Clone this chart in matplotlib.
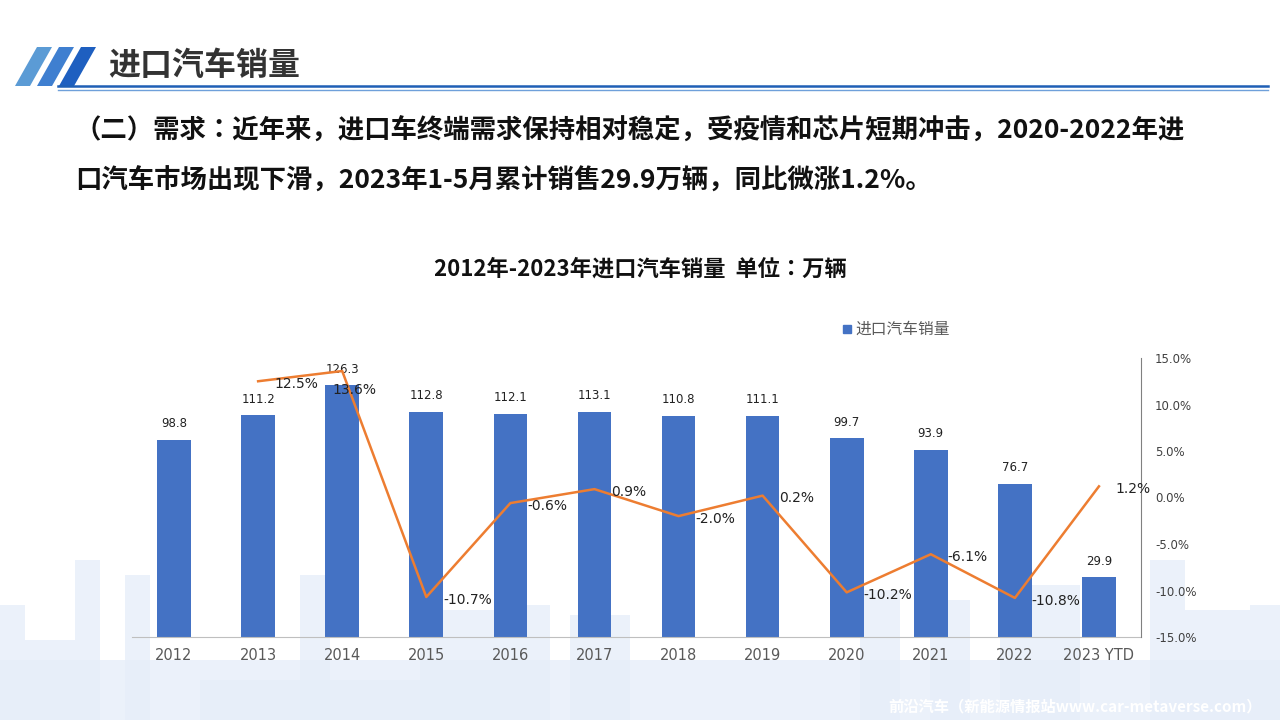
import matplotlib
matplotlib.use("Agg")
import matplotlib.pyplot as plt
from matplotlib import font_manager
from matplotlib.patches import Rectangle, Polygon

names = sorted({f.name for f in font_manager.fontManager.ttflist if 'CJK' in f.name or 'Noto' in f.name})
cjk = [n for n in ['Noto Sans CJK SC', 'Noto Sans CJK JP', 'Noto Sans CJK TC', 'Noto Sans CJK KR'] if n in names]
cjk += [n for n in names if 'CJK' in n and n not in cjk]
plt.rcParams['font.family'] = 'sans-serif'
plt.rcParams['font.sans-serif'] = cjk + ['DejaVu Sans']

years = ['2012', '2013', '2014', '2015', '2016', '2017', '2018', '2019', '2020', '2021', '2022', '2023 YTD']
sales = [98.8, 111.2, 126.3, 112.8, 112.1, 113.1, 110.8, 111.1, 99.7, 93.9, 76.7, 29.9]
growth_years = years[1:]
growth = [12.5, 13.6, -10.7, -0.6, 0.9, -2.0, 0.2, -10.2, -6.1, -10.8, 1.2]

W, H = 1280, 720
fig = plt.figure(figsize=(12.8, 7.2), dpi=100)
fig.patch.set_facecolor('white')

def fx(x): return x / W
def fy(y): return 1 - y / H

bg = fig.add_axes([0, 0, 1, 1], zorder=-10)
bg.set_xlim(0, W); bg.set_ylim(H, 0); bg.axis('off')
blocks = [(0, 605, 25, 115), (25, 640, 50, 80), (75, 560, 25, 160), (125, 575, 25, 145),
          (300, 575, 30, 145), (420, 610, 80, 110), (500, 605, 50, 115), (570, 615, 60, 105),
          (860, 590, 40, 130), (930, 600, 40, 120), (1000, 585, 80, 135), (1150, 560, 35, 160),
          (1185, 610, 65, 110), (1250, 605, 30, 115), (0, 660, 1280, 60), (200, 680, 300, 40)]
for (x, y, w, h) in blocks:
    bg.add_patch(Rectangle((x, y), w, h, color='#E6EEF9', lw=0, alpha=0.8))

for i, c in enumerate(['#5B9BD5', '#3F7FD0', '#1E5FC0']):
    x0 = 15 + i * 22
    bg.add_patch(Polygon([[x0 + 22, 47], [x0 + 37, 47], [x0 + 15, 86], [x0, 86]], color=c, lw=0))
bg.plot([58, 1268], [86, 86], color='#1F5FB5', lw=1.8)
bg.plot([58, 1268], [90, 90], color='#6FA0DA', lw=1.0)
fig.text(fx(108), fy(66), '进口汽车销量', fontsize=23, fontweight='bold', color='#333333', va='center')

fig.text(fx(75), fy(131), '（二）需求：近年来，进口车终端需求保持相对稳定，受疫情和芯片短期冲击，2020-2022年进',
         fontsize=19, fontweight='bold', color='#111111', va='center')
fig.text(fx(75), fy(181), '口汽车市场出现下滑，2023年1-5月累计销售29.9万辆，同比微涨1.2%。',
         fontsize=19, fontweight='bold', color='#111111', va='center')
fig.text(fx(640), fy(269), '2012年-2023年进口汽车销量  单位：万辆', fontsize=16, fontweight='bold',
         color='#111111', ha='center', va='center')

fig.patches.append(Rectangle((fx(843), fy(333)), 8 / W, 8 / H, color='#4472C4', transform=fig.transFigure))
fig.text(fx(855), fy(329), '进口汽车销量', fontsize=11.3, color='#595959', va='center')

fig.text(fx(1262), fy(706), '前沿汽车（新能源情报站www.car-metaverse.com）', fontsize=11, fontweight='bold',
         color='white', ha='right', va='center')

ax = fig.add_axes([fx(132), fy(637), (1141 - 132) / W, (637 - 358) / H])
ax.patch.set_alpha(0)
x = list(range(len(years)))
ax.bar(x, sales, width=0.4, color='#4472C4', zorder=2)
ax.set_xlim(-0.5, 11.5)
ax.set_ylim(0, 140)
ax.set_yticks([])
for s in ['top', 'left', 'right']:
    ax.spines[s].set_visible(False)
ax.spines['bottom'].set_color('#BFBFBF')
ax.set_xticks(x)
ax.set_xticklabels(years, fontsize=10.5, color='#595959', fontfamily='DejaVu Sans')
ax.tick_params(axis='x', length=0, pad=8)
for xi, v in zip(x, sales):
    ax.annotate(f'{v:.1f}', (xi, v), xytext=(0, 7), textcoords='offset points', ha='center',
                va='bottom', fontsize=8.5, color='#222222', fontfamily='DejaVu Sans')

ax2 = ax.twinx()
ax2.patch.set_alpha(0)
gx = x[1:]
ax2.plot(gx, growth, color='#ED7D31', lw=1.8, zorder=3)
ax2.set_ylim(-15, 15)
ax2.set_yticks([-15, -10, -5, 0, 5, 10, 15])
ax2.set_yticklabels([f'{t:.1f}%' for t in [-15, -10, -5, 0, 5, 10, 15]], fontsize=8.5,
                    color='#404040', fontfamily='DejaVu Sans')
ax2.tick_params(axis='y', length=0, pad=10)
for s in ['top', 'left', 'bottom']:
    ax2.spines[s].set_visible(False)
ax2.spines['right'].set_color('#808080')
for xi, v in zip(gx, growth):
    off = (12, -2)
    if v == 13.6:
        off = (-7, -14)
    ax2.annotate(f'{v:.1f}%', (xi, v), xytext=off, textcoords='offset points', ha='left',
                 va='center', fontsize=10, color='#222222', fontfamily='DejaVu Sans')

fig.savefig('out.png', dpi=100)
